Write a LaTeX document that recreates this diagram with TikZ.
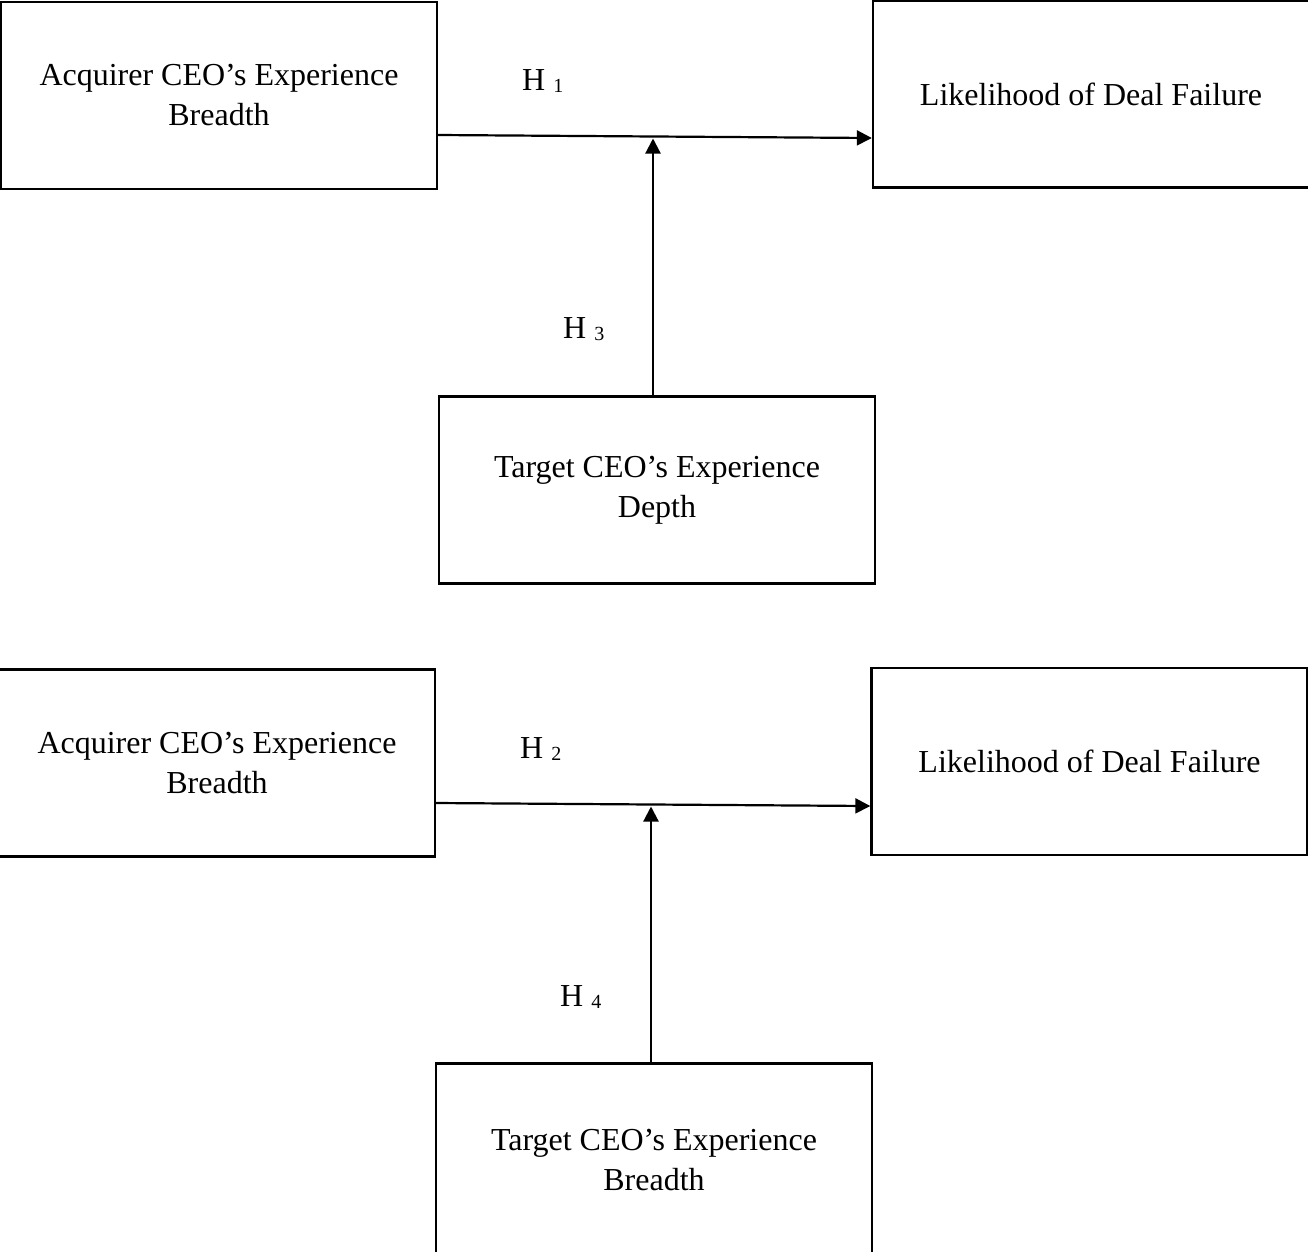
\documentclass[tikz,border=0pt]{standalone}
\usepackage{fontspec}
\setmainfont{Liberation Serif}
\usetikzlibrary{arrows.meta}

\begin{document}
\begin{tikzpicture}[x=1pt,y=-1pt,
  box/.style={draw=black, line width=2.4pt, rectangle, inner sep=0pt,
    minimum width=436pt, minimum height=187pt, align=center,
    font=\fontsize{32}{40}\selectfont},
  link/.style={line width=2.2pt, -{Triangle[length=15pt,width=15pt]}},
  hyp/.style={anchor=base west, inner sep=0pt, font=\fontsize{32}{40}\selectfont}
]
\useasboundingbox (0,0) rectangle (1308,1251);

% sub-index of a hypothesis label
\newcommand{\hsub}[1]{\raisebox{-2.5pt}{\fontsize{20}{20}\selectfont #1}}

% ---- first model: moderation by target CEO depth ----
\node[box] (acq1) at (219,95.5) {Acquirer CEO’s Experience\\Breadth};
\node[box] (out1) at (1091,94) {Likelihood of Deal Failure};
\node[box] (tgt1) at (657,490) {Target CEO’s Experience\\Depth};
\coordinate (j1) at (653,138.5);

\draw[link] ([yshift=-39.5pt]acq1.east) -- ([yshift=-44pt]out1.west);
\draw[link] ([xshift=-4pt]tgt1.north) -- (j1);

\node[hyp] (h1) at (522,90) {H \hsub{1}};
\node[hyp] (h3) at (563,338) {H \hsub{3}};

% ---- second model: moderation by target CEO breadth ----
\node[box] (acq2) at (217,763) {Acquirer CEO’s Experience\\Breadth};
\node[box] (out2) at (1089.5,761.5) {Likelihood of Deal Failure};
\node[box, minimum height=193pt] (tgt2) at (654,1160) {Target CEO’s Experience\\Breadth};
\coordinate (j2) at (651,806.5);

\draw[link] ([yshift=-40pt]acq2.east) -- ([yshift=-44.5pt]out2.west);
\draw[link] ([xshift=-3pt]tgt2.north) -- (j2);

\node[hyp] (h2) at (520,758) {H \hsub{2}};
\node[hyp] (h4) at (560,1006) {H \hsub{4}};
\end{tikzpicture}
\end{document}
